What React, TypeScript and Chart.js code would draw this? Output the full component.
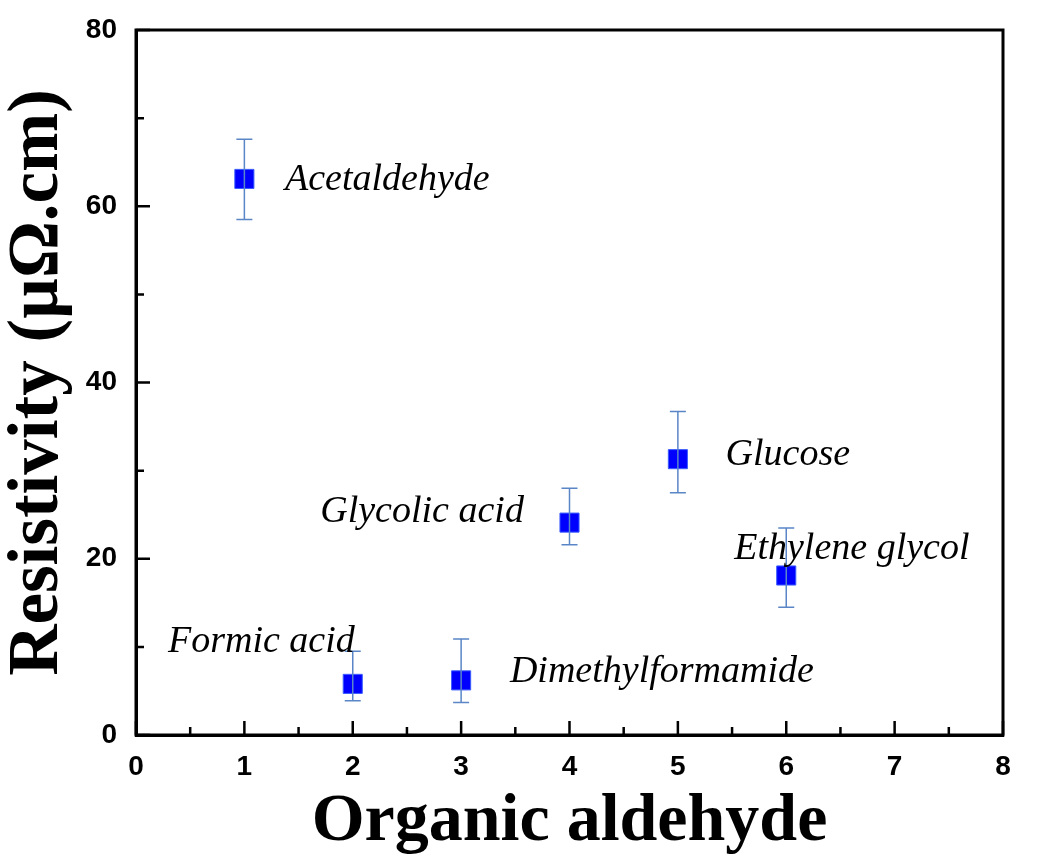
import React, { useEffect, useRef } from "react";
import { Chart, registerables } from "chart.js";

Chart.register(...registerables);

// ---- data ----
const xValues = [1, 2, 3, 4, 5, 6];
const resistivity = [63.1, 5.8, 6.2, 24.1, 31.3, 18.1];
const errUpper = [67.6, 9.5, 10.9, 28.0, 36.7, 23.5];
const errLower = [58.5, 3.9, 3.7, 21.6, 27.5, 14.5];
const labelNames = ["Acetaldehyde", "Formic acid", "Dimethylformamide", "Glycolic acid", "Glucose", "Ethylene glycol"];
const labelX = [1.375, 0.295, 3.45, 1.7, 5.44, 5.52];
const labelY = [61.84, 9.45, 6.05, 24.2, 30.6, 20.0];
const xTickValues = [0, 1, 2, 3, 4, 5, 6, 7, 8];
const yTickValues = [0, 20, 40, 60, 80];
const xMinorTicks = [0.5, 1.5, 2.5, 3.5, 4.5, 5.5, 6.5, 7.5];
const yMinorTicks = [10, 30, 50, 70];

const errorBarPlugin = {
  id: "errorBars",
  afterDatasetsDraw(chart: any) {
    const { ctx, scales } = chart;
    const xs = scales.x, ys = scales.y;
    ctx.save();
    ctx.strokeStyle = "#5a86c8";
    ctx.lineWidth = 1.5;
    xValues.forEach((xv, i) => {
      const px = xs.getPixelForValue(xv);
      const top = ys.getPixelForValue(errUpper[i]);
      const bot = ys.getPixelForValue(errLower[i]);
      ctx.beginPath();
      ctx.moveTo(px, top);
      ctx.lineTo(px, bot);
      ctx.moveTo(px - 8, top);
      ctx.lineTo(px + 8, top);
      ctx.moveTo(px - 8, bot);
      ctx.lineTo(px + 8, bot);
      ctx.stroke();
    });
    ctx.restore();
  },
};

const framePlugin = {
  id: "frameTicks",
  afterDraw(chart: any) {
    const { ctx, chartArea, scales } = chart;
    const { left, right, top, bottom } = chartArea;
    const xs = scales.x, ys = scales.y;
    ctx.save();
    ctx.strokeStyle = "#000";
    ctx.lineWidth = 3;
    ctx.beginPath();
    ctx.rect(left, top, right - left, bottom - top);
    ctx.stroke();
    ctx.lineWidth = 2.5;
    ctx.beginPath();
    xTickValues.forEach((v) => {
      const px = xs.getPixelForValue(v);
      ctx.moveTo(px, bottom);
      ctx.lineTo(px, bottom - 14);
    });
    xMinorTicks.forEach((v) => {
      const px = xs.getPixelForValue(v);
      ctx.moveTo(px, bottom);
      ctx.lineTo(px, bottom - 8);
    });
    yTickValues.forEach((v) => {
      const py = ys.getPixelForValue(v);
      ctx.moveTo(left, py);
      ctx.lineTo(left + 14, py);
    });
    yMinorTicks.forEach((v) => {
      const py = ys.getPixelForValue(v);
      ctx.moveTo(left, py);
      ctx.lineTo(left + 8, py);
    });
    ctx.stroke();

    ctx.fillStyle = "#000";
    ctx.font = "italic 38px 'Liberation Serif', 'Times New Roman', serif";
    ctx.textAlign = "left";
    ctx.textBaseline = "alphabetic";
    labelNames.forEach((name, i) => {
      ctx.fillText(name, xs.getPixelForValue(labelX[i]), ys.getPixelForValue(labelY[i]));
    });
    ctx.restore();
  },
};

export default function App() {
  const canvasRef = useRef<HTMLCanvasElement | null>(null);

  useEffect(() => {
    const canvas = canvasRef.current;
    if (!canvas) return;
    const chart = new Chart(canvas, {
      type: "scatter",
      data: {
        datasets: [
          {
            label: "Resistivity",
            data: xValues.map((x, i) => ({ x, y: resistivity[i] })),
            backgroundColor: "#0000ff",
            borderColor: "#3a5cff",
            borderWidth: 1,
            pointStyle: "rect",
            pointRadius: 13.5,
          },
        ],
      },
      options: {
        responsive: false,
        animation: false,
        devicePixelRatio: 1,
        layout: { padding: { left: 0, right: 35, top: 30, bottom: 0 } },
        plugins: { legend: { display: false }, tooltip: { enabled: false } },
        scales: {
          x: {
            type: "linear",
            min: 0,
            max: 8,
            afterFit(scale: any) {
              scale.height = 124;
              scale.paddingLeft = 0;
              scale.paddingRight = 0;
            },
            afterBuildTicks(scale: any) {
              scale.ticks = xTickValues.map((v) => ({ value: v }));
            },
            grid: { display: false, drawTicks: false },
            border: { display: true, color: "#000", width: 3 },
            ticks: {
              padding: 15,
              color: "#000",
              font: { family: "'Liberation Sans', Arial, sans-serif", size: 28, weight: "bold" },
            },
            title: {
              display: true,
              text: "Organic aldehyde",
              color: "#000",
              font: { family: "'Liberation Serif', 'Times New Roman', serif", size: 68, weight: "bold", lineHeight: 1 },
              padding: { top: 0, bottom: 3 },
            },
          },
          y: {
            type: "linear",
            min: 0,
            max: 80,
            afterFit(scale: any) {
              scale.width = 136;
              scale.paddingTop = 0;
              scale.paddingBottom = 0;
            },
            afterBuildTicks(scale: any) {
              scale.ticks = yTickValues.map((v) => ({ value: v }));
            },
            grid: { display: false, drawTicks: false },
            border: { display: true, color: "#000", width: 3 },
            ticks: {
              padding: 19,
              color: "#000",
              font: { family: "'Liberation Sans', Arial, sans-serif", size: 28, weight: "bold" },
            },
            title: {
              display: true,
              text: "Resistivity (µΩ.cm)",
              color: "#000",
              font: { family: "'Liberation Serif', 'Times New Roman', serif", size: 71, weight: "bold", lineHeight: 1 },
              padding: { top: 3, bottom: 0 },
            },
          },
        },
      },
      plugins: [errorBarPlugin, framePlugin],
    } as any);
    return () => chart.destroy();
  }, []);

  return (
    <div style={{ position: "absolute", left: 0, top: 0, width: 1038, height: 859, background: "#fff" }}>
      <canvas ref={canvasRef} width={1038} height={859} style={{ display: "block" }} />
    </div>
  );
}
